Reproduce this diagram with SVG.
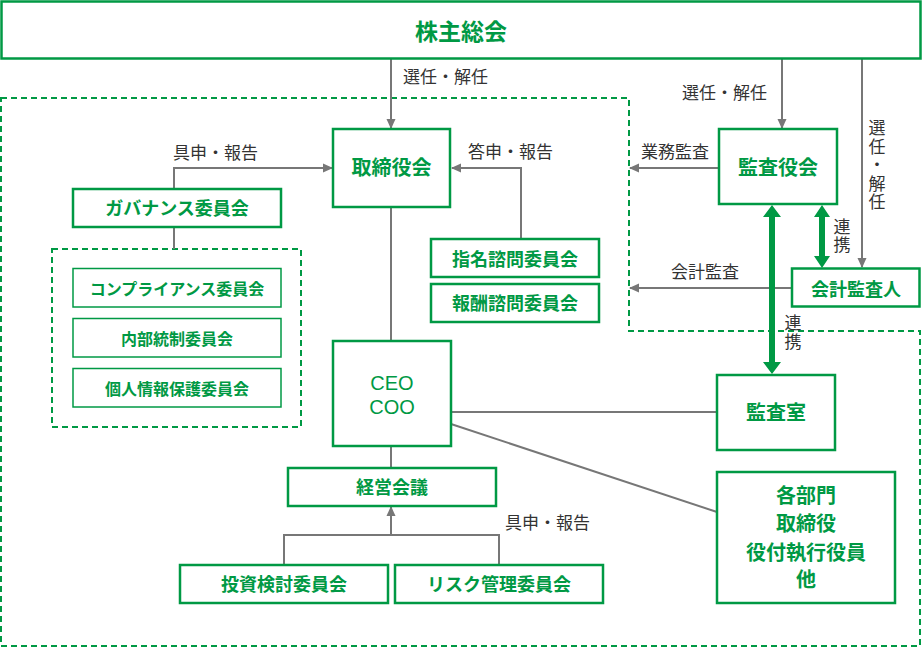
<svg xmlns="http://www.w3.org/2000/svg" width="922" height="648" viewBox="0 0 922 648">
<style>
.box{fill:#fff;stroke:#009944;stroke-width:2.5}
.thin{fill:#fff;stroke:#009944;stroke-width:1.5}
.dash{fill:none;stroke:#009944;stroke-width:2;stroke-dasharray:6 4}
.ln{fill:none;stroke:#777;stroke-width:2}
.lbl{font-family:"Noto Sans CJK JP",sans-serif;font-size:17px;fill:#333}
.vt{writing-mode:vertical-rl;letter-spacing:1.5px}
.nt{font-family:"Noto Sans CJK JP",sans-serif;font-weight:bold;fill:#009944;text-anchor:middle}
.lat{font-family:"Liberation Sans",Arial,sans-serif;fill:#009944;text-anchor:middle;font-size:20px}
.garrow{fill:#009944}
</style>
<defs>
<marker id="ah" markerUnits="userSpaceOnUse" markerWidth="10" markerHeight="10" viewBox="0 0 10 10" refX="9" refY="5" orient="auto">
<path d="M0,0.5 L10,5 L0,9.5 Z" fill="#777"/>
</marker>
</defs>

<g id="regions">
<path class="dash" d="M1,98 H629 V331 H920 V646 H1 Z"/>
<rect class="dash" x="52" y="249" width="249" height="178"/>
</g>

<g id="connectors">
<line class="ln" x1="391" y1="59" x2="391" y2="128" marker-end="url(#ah)"/>
<line class="ln" x1="782" y1="59" x2="782" y2="128" marker-end="url(#ah)"/>
<line class="ln" x1="862" y1="59" x2="862" y2="267" marker-end="url(#ah)"/>
<path class="ln" d="M174,189 V168 H332" marker-end="url(#ah)"/>
<path class="ln" d="M521,239 V168 H452" marker-end="url(#ah)"/>
<line class="ln" x1="719" y1="168" x2="630" y2="168" marker-end="url(#ah)"/>
<line class="ln" x1="792" y1="288" x2="630" y2="288" marker-end="url(#ah)"/>
<line class="ln" x1="174" y1="227" x2="174" y2="249"/>
<line class="ln" x1="391" y1="207" x2="391" y2="341"/>
<line class="ln" x1="391" y1="446" x2="391" y2="468"/>
<line class="ln" x1="451" y1="412" x2="717" y2="412"/>
<line class="ln" x1="451" y1="424" x2="717" y2="512"/>
<path class="ln" d="M284,565 V535 H499 V565"/>
<line class="ln" x1="391" y1="535" x2="391" y2="507" marker-end="url(#ah)"/>
<polygon class="garrow" points="772,205 781,217 775,217 775,362 781,362 772,374 763,362 769,362 769,217 763,217"/>
<polygon class="garrow" points="822,205 830,217 825,217 825,256 830,256 822,268 814,256 819,256 819,217 814,217"/>
</g>

<g id="labels">
<text class="lbl" x="403" y="83">選任・解任</text>
<text class="lbl" x="682" y="99">選任・解任</text>
<text class="lbl" x="173" y="159">具申・報告</text>
<text class="lbl" x="468" y="158">答申・報告</text>
<text class="lbl" x="641" y="158">業務監査</text>
<text class="lbl" x="671" y="278">会計監査</text>
<text class="lbl" x="505" y="529">具申・報告</text>
<text class="lbl vt" x="877" y="119.5">選任・解任</text>
<text class="lbl vt" x="842" y="218">連携</text>
<text class="lbl vt" x="793" y="314.5">連携</text>
</g>

<g id="n-shareholders">
<rect class="box" x="1.5" y="1.5" width="919" height="57"/>
<text class="nt" x="461" y="39.5" font-size="23">株主総会</text>
</g>
<g id="n-board">
<rect class="box" x="333" y="129" width="117" height="78"/>
<text class="nt" x="391.5" y="174.5" font-size="20">取締役会</text>
</g>
<g id="n-governance">
<rect class="box" x="73" y="189" width="208" height="38"/>
<text class="nt" x="177" y="214.6" font-size="18">ガバナンス委員会</text>
</g>
<g id="n-compliance">
<rect class="thin" x="73" y="268.5" width="208" height="38.5"/>
<text class="nt" x="177" y="295" font-size="16">コンプライアンス委員会</text>
</g>
<g id="n-internal">
<rect class="thin" x="73" y="318.5" width="208" height="38.5"/>
<text class="nt" x="177" y="345" font-size="16">内部統制委員会</text>
</g>
<g id="n-privacy">
<rect class="thin" x="73" y="368.5" width="208" height="38.5"/>
<text class="nt" x="177" y="395" font-size="16">個人情報保護委員会</text>
</g>
<g id="n-nomination">
<rect class="box" x="431" y="239" width="168" height="38"/>
<text class="nt" x="515" y="265.6" font-size="18">指名諮問委員会</text>
</g>
<g id="n-remuneration">
<rect class="box" x="431" y="284" width="168" height="38"/>
<text class="nt" x="515" y="310.3" font-size="18">報酬諮問委員会</text>
</g>
<g id="n-auditboard">
<rect class="box" x="719" y="129" width="118" height="75"/>
<text class="nt" x="778" y="174.5" font-size="20">監査役会</text>
</g>
<g id="n-accountant">
<rect class="box" x="792" y="268.5" width="127.5" height="38"/>
<text class="nt" x="856" y="295.6" font-size="18">会計監査人</text>
</g>
<g id="n-ceo">
<rect class="box" x="333" y="341" width="118" height="105"/>
<text class="lat" x="392" y="390">CEO</text>
<text class="lat" x="392" y="413.5">COO</text>
</g>
<g id="n-auditoffice">
<rect class="box" x="717" y="375" width="118" height="75"/>
<text class="nt" x="776" y="419.7" font-size="20">監査室</text>
</g>
<g id="n-departments">
<rect class="box" x="717" y="472" width="178" height="131"/>
<text class="nt" x="806" y="503.4" font-size="20">各部門</text>
<text class="nt" x="806" y="530.7" font-size="20">取締役</text>
<text class="nt" x="806" y="559.5" font-size="20">役付執行役員</text>
<text class="nt" x="806" y="587.4" font-size="20">他</text>
</g>
<g id="n-management">
<rect class="box" x="288" y="468" width="208" height="38"/>
<text class="nt" x="392" y="494" font-size="18">経営会議</text>
</g>
<g id="n-investment">
<rect class="box" x="180" y="565" width="208" height="38"/>
<text class="nt" x="284" y="590.7" font-size="18">投資検討委員会</text>
</g>
<g id="n-risk">
<rect class="box" x="395" y="565" width="208" height="38"/>
<text class="nt" x="499" y="590.7" font-size="18">リスク管理委員会</text>
</g>
</svg>
